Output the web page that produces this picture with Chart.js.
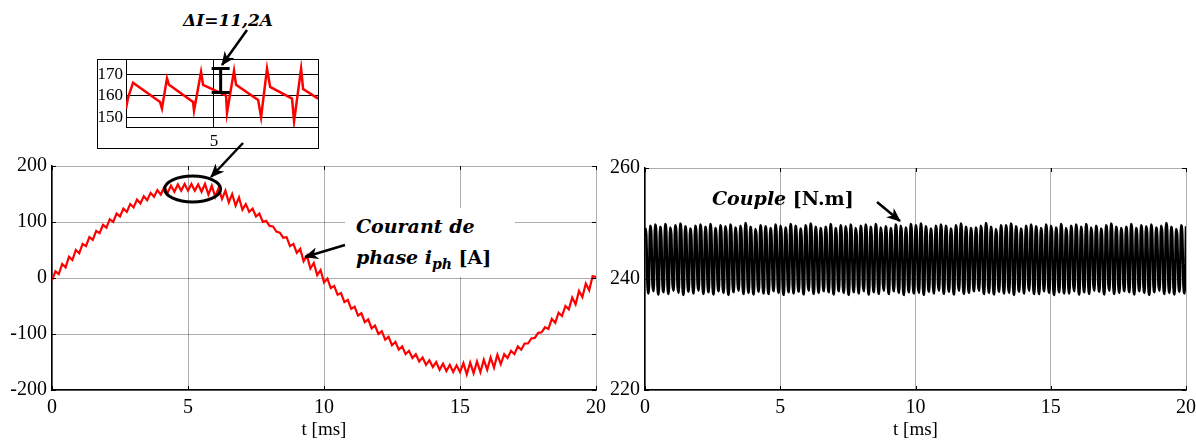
<!DOCTYPE html>
<html>
<head>
<meta charset="utf-8">
<script src="https://cdn.jsdelivr.net/npm/chart.js@4.4.0/dist/chart.umd.min.js"></script>
<style>
  body { margin: 0; background: #fff; width: 1196px; height: 441px; overflow: hidden; position: relative; font-family: 'Liberation Serif', serif; }
  canvas { position: absolute; }
  #courantChart { left: 0; top: 150px; }
  #coupleChart { left: 600px; top: 150px; }
  #insetBox { position: absolute; left: 97px; top: 59px; width: 222px; height: 90px; box-sizing: border-box; border: 1px solid #000; }
  #insetChart { left: 97px; top: 59px; }
  .note { position: absolute; font-family: 'DejaVu Serif', serif; font-weight: bold; color: #000; white-space: nowrap; }
  .note i { font-style: italic; }
  #arrows { position: absolute; left: 0; top: 0; pointer-events: none; }
</style>
</head>
<body>
<canvas id="coupleChart" width="596" height="291"></canvas>
<canvas id="courantChart" width="614" height="291"></canvas>
<div id="insetBox"></div>
<canvas id="insetChart" width="222" height="90"></canvas>

<div class="note" style="left:183px; top:12px; font-size:17px; line-height:17px;"><i>ΔI=11,2A</i></div>
<div class="note" style="left:345px; top:208px; width:170px; height:69px; background:#fff; font-size:19px; line-height:31px; padding:3px 0 0 11px; box-sizing:border-box;">
  <i>Courant de</i><br><i>phase i<sub style="font-size:14px;">ph</sub></i> [A]
</div>
<div class="note" style="left:712px; top:188px; font-size:19px; line-height:20px;"><i>Couple</i> [N.m]</div>

<svg id="arrows" width="1196" height="441">
  <defs>
    <marker id="ah" markerUnits="userSpaceOnUse" markerWidth="14" markerHeight="12" refX="13" refY="6" orient="auto">
      <path d="M0,0 L14,6 L0,12 L4,6 z" fill="#000"/>
    </marker>
  </defs>
  <g stroke="#000" stroke-width="2.5" fill="none">
    <line x1="247" y1="30" x2="222" y2="65" marker-end="url(#ah)"/>
    <line x1="243" y1="143" x2="211" y2="177" marker-end="url(#ah)"/>
    <line x1="345" y1="245" x2="305" y2="257" marker-end="url(#ah)"/>
    <line x1="877" y1="202" x2="900" y2="221" marker-end="url(#ah)"/>
  </g>
</svg>

<script>
// phase current [A], one sample every 0.125 ms from 0 to 20 ms
const courant = [
  -4, 12, 7, 25, 19, 38, 32, 50, 44, 61,
  57, 73, 68, 84, 80, 95, 90, 105, 100, 115,
  110, 124, 118, 132, 126, 140, 133, 146, 139, 152,
  145, 157, 149, 162, 152, 165, 154, 167, 156, 168,
  156, 168, 156, 167, 154, 168, 149, 165, 145, 161,
  141, 156, 135, 150, 129, 144, 122, 132, 118, 124,
  110, 115, 100, 102, 93, 92, 83, 81, 72, 73,
  57, 61, 45, 52, 30, 40, 17, 27, 5, 14,
  -8, -1, -18, -14, -30, -27, -43, -39, -55, -51,
  -67, -63, -79, -74, -90, -85, -100, -95, -110, -105,
  -120, -114, -128, -122, -136, -130, -143, -136, -149, -142,
  -155, -147, -159, -150, -164, -153, -166, -155, -168, -156,
  -168, -152, -172, -151, -170, -149, -168, -146, -164, -142,
  -160, -137, -154, -136, -143, -130, -136, -122, -128, -117,
  -117, -108, -107, -98, -97, -88, -91, -73, -80, -62,
  -68, -50, -56, -35, -47, -23, -34, -10, -22, 3,
  2
];

// torque [N.m], evenly sampled over 0..20 ms (about 108 ripple periods)
const couple = [
  249.2,248.1,238.7,237.4, 249.6,248.4,238.9,237.8, 249.8,248.6,238.5,237.2, 249.4,248.0,238.8,237.6, 249.9,248.7,238.6,237.3, 249.3,248.2,239.0,237.9,
  249.7,248.5,238.6,237.5, 250.0,248.8,238.3,237.1, 249.5,248.3,238.9,237.7, 249.1,247.9,238.7,237.4, 249.6,248.4,239.0,237.9, 249.8,248.6,238.5,237.3,
  249.4,248.2,238.8,237.6, 249.9,248.6,238.4,237.2, 249.2,248.0,239.0,237.8, 249.7,248.5,238.7,237.5, 249.5,248.4,238.3,237.1, 249.8,248.5,238.8,237.6,
  249.3,248.1,239.0,237.9, 249.6,248.5,238.5,237.3, 250.1,248.9,238.7,237.5, 249.4,248.2,238.4,237.2, 249.0,247.9,238.9,237.7, 249.7,248.4,238.6,237.4,
  249.5,248.3,238.5,237.3, 249.2,248.0,239.0,237.8, 249.8,248.5,238.7,237.5, 249.6,248.5,238.3,237.1, 249.3,248.1,238.8,237.6, 249.9,248.7,238.6,237.4,
  249.6,248.4,238.9,237.7, 249.1,247.9,238.4,237.2, 249.7,248.5,239.0,237.9, 250.0,248.8,238.5,237.3, 249.4,248.2,238.7,237.5, 249.2,248.0,239.0,237.8,
  249.4,248.2,238.8,237.6, 249.9,248.6,238.4,237.2, 249.2,248.0,239.0,237.8, 249.7,248.5,238.7,237.5, 249.5,248.4,238.3,237.1, 249.8,248.5,238.8,237.6,
  249.2,248.1,238.7,237.4, 249.6,248.4,238.9,237.8, 249.8,248.6,238.5,237.2, 249.4,248.0,238.8,237.6, 249.9,248.7,238.6,237.3, 249.3,248.2,239.0,237.9,
  249.5,248.3,238.5,237.3, 249.2,248.0,239.0,237.8, 249.8,248.5,238.7,237.5, 249.6,248.5,238.3,237.1, 249.3,248.1,238.8,237.6, 249.9,248.7,238.6,237.4,
  249.7,248.5,238.6,237.5, 250.0,248.8,238.3,237.1, 249.5,248.3,238.9,237.7, 249.1,247.9,238.7,237.4, 249.6,248.4,239.0,237.9, 249.8,248.6,238.5,237.3,
  249.6,248.4,238.9,237.7, 249.1,247.9,238.4,237.2, 249.7,248.5,239.0,237.9, 250.0,248.8,238.5,237.3, 249.4,248.2,238.7,237.5, 249.2,248.0,239.0,237.8,
  249.3,248.1,239.0,237.9, 249.6,248.5,238.5,237.3, 250.1,248.9,238.7,237.5, 249.4,248.2,238.4,237.2, 249.0,247.9,238.9,237.7, 249.7,248.4,238.6,237.4,
  249.7,248.5,238.6,237.5, 250.0,248.8,238.3,237.1, 249.5,248.3,238.9,237.7, 249.1,247.9,238.7,237.4, 249.6,248.4,239.0,237.9, 249.8,248.6,238.5,237.3,
  249.5,248.3,238.5,237.3, 249.2,248.0,239.0,237.8, 249.8,248.5,238.7,237.5, 249.6,248.5,238.3,237.1, 249.3,248.1,238.8,237.6, 249.9,248.7,238.6,237.4,
  249.2,248.1,238.7,237.4, 249.6,248.4,238.9,237.8, 249.8,248.6,238.5,237.2, 249.4,248.0,238.8,237.6, 249.9,248.7,238.6,237.3, 249.3,248.2,239.0,237.9,
  249.6,248.4,238.9,237.7, 249.1,247.9,238.4,237.2, 249.7,248.5,239.0,237.9, 250.0,248.8,238.5,237.3, 249.4,248.2,238.7,237.5, 249.2,248.0,239.0,237.8,
  249.4,248.2,238.8,237.6, 249.9,248.6,238.4,237.2, 249.2,248.0,239.0,237.8, 249.7,248.5,238.7,237.5, 249.5,248.4,238.3,237.1, 249.8,248.5,238.8,237.6,
  249.3,248.1,239.0,237.9, 249.6,248.5,238.5,237.3, 250.1,248.9,238.7,237.5, 249.4,248.2,238.4,237.2, 249.0,247.9,238.9,237.7, 249.7,248.4,238.6,237.4,
  249.5
];

// zoom around the current peak
const insetT = [4.350, 4.365, 4.402, 4.602, 4.616, 4.653, 4.668, 4.846, 4.853, 4.905, 4.920,
                5.090, 5.097, 5.149, 5.164, 5.327, 5.349, 5.393, 5.416, 5.578, 5.593, 5.645, 5.660, 5.771];
const insetI = [154, 159, 166, 157, 154, 168, 165, 157, 153, 171, 165,
                160, 152, 171.6, 165, 158, 150, 172.5, 164, 158.6, 148, 172.5, 163, 158.6];

const xTicks = [0, 5, 10, 15, 20];
const courantTicks = [-200, -100, 0, 100, 200];
const coupleTicks = [220, 240, 260];
const insetYTicks = [150, 160, 170];
const insetXTicks = [5];
const deltaI = [161.4, 172.6];   // ΔI = 11,2 A
const deltaT = 5.05;

const courantStep = 20 / (courant.length - 1);
const coupleStep = 20 / (couple.length - 1);

Chart.defaults.font.family = "'Liberation Serif', serif";
Chart.defaults.color = '#000';

const gridColor = 'rgba(0,0,0,0.32)';

// little inward tick marks on all four sides, like matlab
const tickMarks = {
  id: 'tickMarks',
  afterDraw(chart) {
    const { ctx, chartArea: a, scales: { x, y } } = chart;
    ctx.save();
    ctx.strokeStyle = '#000';
    ctx.lineWidth = 1;
    ctx.beginPath();
    x.ticks.forEach(t => {
      const px = Math.round(x.getPixelForValue(t.value)) + 0.5;
      ctx.moveTo(px, a.bottom); ctx.lineTo(px, a.bottom - 4);
      ctx.moveTo(px, a.top); ctx.lineTo(px, a.top + 4);
    });
    y.ticks.forEach(t => {
      const py = Math.round(y.getPixelForValue(t.value)) + 0.5;
      ctx.moveTo(a.left, py); ctx.lineTo(a.left + 4, py);
      ctx.moveTo(a.right, py); ctx.lineTo(a.right - 4, py);
    });
    ctx.stroke();
    ctx.restore();
  }
};

const peakEllipse = {
  id: 'peakEllipse',
  afterDatasetsDraw(chart) {
    const { ctx, scales: { x, y } } = chart;
    ctx.save();
    ctx.strokeStyle = '#000';
    ctx.lineWidth = 3;
    ctx.beginPath();
    ctx.ellipse(x.getPixelForValue(5.17), y.getPixelForValue(159), 28, 13, 0, 0, Math.PI * 2);
    ctx.stroke();
    ctx.restore();
  }
};

const deltaBar = {
  id: 'deltaBar',
  afterDatasetsDraw(chart) {
    const { ctx, scales: { x, y } } = chart;
    const px = x.getPixelForValue(deltaT);
    const y1 = y.getPixelForValue(deltaI[0]);
    const y2 = y.getPixelForValue(deltaI[1]);
    ctx.save();
    ctx.strokeStyle = '#000';
    ctx.lineWidth = 3;
    ctx.beginPath();
    ctx.moveTo(px, y1); ctx.lineTo(px, y2);
    ctx.moveTo(px - 9, y1); ctx.lineTo(px + 9, y1);
    ctx.moveTo(px - 9, y2); ctx.lineTo(px + 9, y2);
    ctx.stroke();
    ctx.restore();
  }
};

// keep chart.js from reserving room for half tick labels at the ends
function noEdgePad(s) {
  s.paddingLeft = 0; s.paddingRight = 0; s.paddingTop = 0; s.paddingBottom = 0;
}

function mainScales(yTicks, yWidth) {
  return {
    x: {
      type: 'linear', min: 0, max: 20,
      afterBuildTicks: s => { s.ticks = xTicks.map(v => ({ value: v })); },
      ticks: { padding: 6, font: { size: 20 }, maxRotation: 0 },
      grid: { color: gridColor, drawTicks: false },
      border: { color: '#000', width: 1.5 },
      title: { display: true, text: 't [ms]', font: { size: 19 }, padding: 0 },
      afterFit: s => { s.height = 51; noEdgePad(s); }
    },
    y: {
      min: yTicks[0], max: yTicks[yTicks.length - 1],
      afterBuildTicks: s => { s.ticks = yTicks.map(v => ({ value: v })); },
      ticks: { padding: 5, font: { size: 20 } },
      grid: { color: gridColor, drawTicks: false },
      border: { color: '#000', width: 1.5 },
      afterFit: s => { s.width = yWidth; noEdgePad(s); }
    }
  };
}

new Chart(document.getElementById('courantChart'), {
  type: 'line',
  data: {
    datasets: [{
      data: courant.map((v, i) => ({ x: i * courantStep, y: v })),
      borderColor: '#ff0000',
      borderWidth: 2.2,
      pointRadius: 0,
      tension: 0
    }]
  },
  options: {
    responsive: false,
    animation: false,
    devicePixelRatio: 1,
    layout: { padding: { top: 16, right: 18, left: 0, bottom: 0 } },
    plugins: { legend: { display: false }, tooltip: { enabled: false } },
    scales: mainScales(courantTicks, 52)
  },
  plugins: [tickMarks, peakEllipse]
});

// monotone keeps chart.js off its fast path, which would merge samples
// that fall in the same pixel column
new Chart(document.getElementById('coupleChart'), {
  type: 'line',
  data: {
    datasets: [{
      data: couple.map((v, i) => ({ x: i * coupleStep, y: v })),
      borderColor: '#000',
      borderWidth: 2.5,
      borderJoinStyle: 'round',
      cubicInterpolationMode: 'monotone',
      pointRadius: 0
    }]
  },
  options: {
    responsive: false,
    animation: false,
    devicePixelRatio: 1,
    layout: { padding: { top: 18, right: 10, left: 0, bottom: 0 } },
    plugins: { legend: { display: false }, tooltip: { enabled: false } },
    scales: mainScales(coupleTicks, 45)
  },
  plugins: [tickMarks]
});

new Chart(document.getElementById('insetChart'), {
  type: 'line',
  data: {
    datasets: [{
      data: insetT.map((t, i) => ({ x: t, y: insetI[i] })),
      borderColor: '#ff0000',
      borderWidth: 2.5,
      pointRadius: 0,
      tension: 0
    }]
  },
  options: {
    responsive: false,
    animation: false,
    devicePixelRatio: 1,
    layout: { padding: { top: 0, right: 1, left: 0, bottom: 0 } },
    plugins: { legend: { display: false }, tooltip: { enabled: false } },
    scales: {
      x: {
        type: 'linear', min: 4.35, max: 5.77,
        afterBuildTicks: s => { s.ticks = insetXTicks.map(v => ({ value: v })); },
        ticks: { padding: 4, font: { size: 17 }, maxRotation: 0 },
        grid: { color: '#000', drawTicks: false },
        border: { color: '#000', width: 1 },
        afterFit: s => { s.height = 22; noEdgePad(s); }
      },
      y: {
        min: 145.4, max: 177,
        afterBuildTicks: s => { s.ticks = insetYTicks.map(v => ({ value: v })); },
        ticks: { padding: 3, font: { size: 17 } },
        grid: { color: '#000', drawTicks: false },
        border: { color: '#000', width: 1 },
        afterFit: s => { s.width = 29; noEdgePad(s); }
      }
    }
  },
  plugins: [deltaBar]
});
</script>
</body>
</html>
